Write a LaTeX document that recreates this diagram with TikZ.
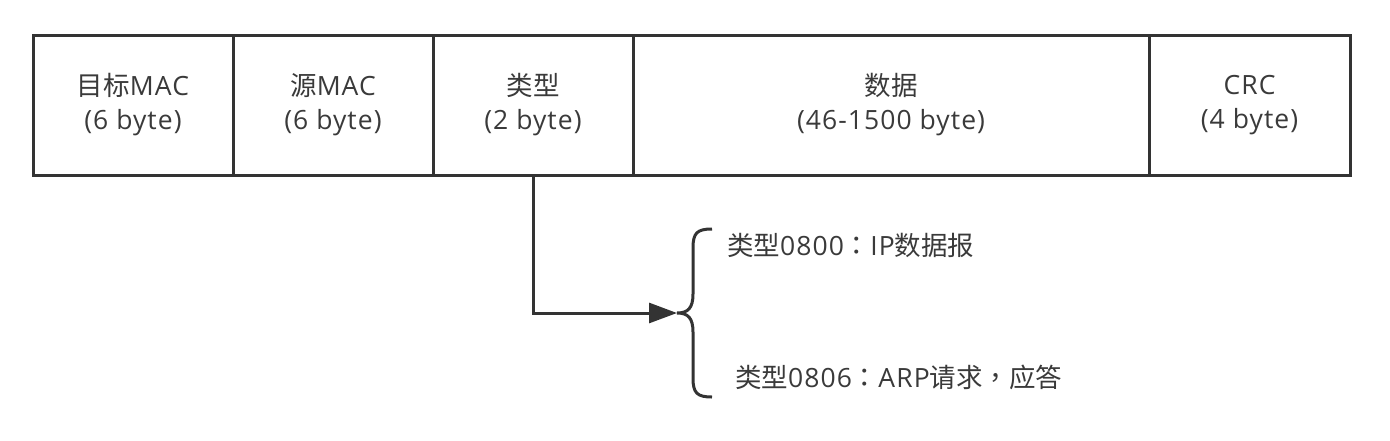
\documentclass[tikz,border=0pt]{standalone}
\usepackage{fontspec}
\setmainfont{Open Sans}[LetterSpace=4]
\newfontfamily\cjk{Noto Sans CJK SC}
\newfontfamily\cjkp{Noto Sans CJK TC}
\usetikzlibrary{arrows.meta}
\definecolor{ink}{HTML}{333333}
\definecolor{txt}{HTML}{3A3A3A}
\tikzset{
  field/.style={draw=ink, line width=3pt, minimum height=140pt, inner sep=0pt, align=center,
    text=txt, font=\fontsize{26.5}{34}\selectfont},
  label/.style={text=txt, font=\fontsize{26.5}{30}\selectfont, inner sep=0pt, anchor=west},
  conn/.style={draw=ink, line width=3pt},
}
\begin{document}
\begin{tikzpicture}[x=1pt,y=-1pt]
\useasboundingbox (0,0) rectangle (1390,440);
\node[field, minimum width=200pt] (dst) at (133,105) {{\cjk 目标}MAC\\(6 byte)};
\node[field, minimum width=200pt] (src) at (333,105) {{\cjk 源}MAC\\(6 byte)};
\node[field, minimum width=200pt] (typ) at (533,105) {{\cjk 类型}\\(2 byte)};
\node[field, minimum width=516pt] (dat) at (891,105) {{\cjk 数据}\\(46-1500 byte)};
\node[field, minimum width=201pt] (crc) at (1249.5,105) {CRC\\(4 byte)};
\coordinate (tip) at (677,313);
\draw[conn] (712,229) .. controls (697,229) and (693,233) .. (693,248)
  -- (693,294) .. controls (693,308) and (688,313) .. (tip)
  .. controls (688,313) and (693,318) .. (693,332)
  -- (693,378) .. controls (693,393) and (697,397) .. (712,397);
\draw[conn, -{Triangle[length=28pt,width=20pt]}] (typ.south) |- (tip);
\node[label] (ip) at (727,245) {{\cjk 类型}0800{\cjkp ：}IP{\cjk 数据报}};
\node[label] (arp) at (735,377) {{\cjk 类型}0806{\cjkp ：}ARP{\cjk 请求}{\cjkp ，}{\cjk 应答}};
\end{tikzpicture}
\end{document}
